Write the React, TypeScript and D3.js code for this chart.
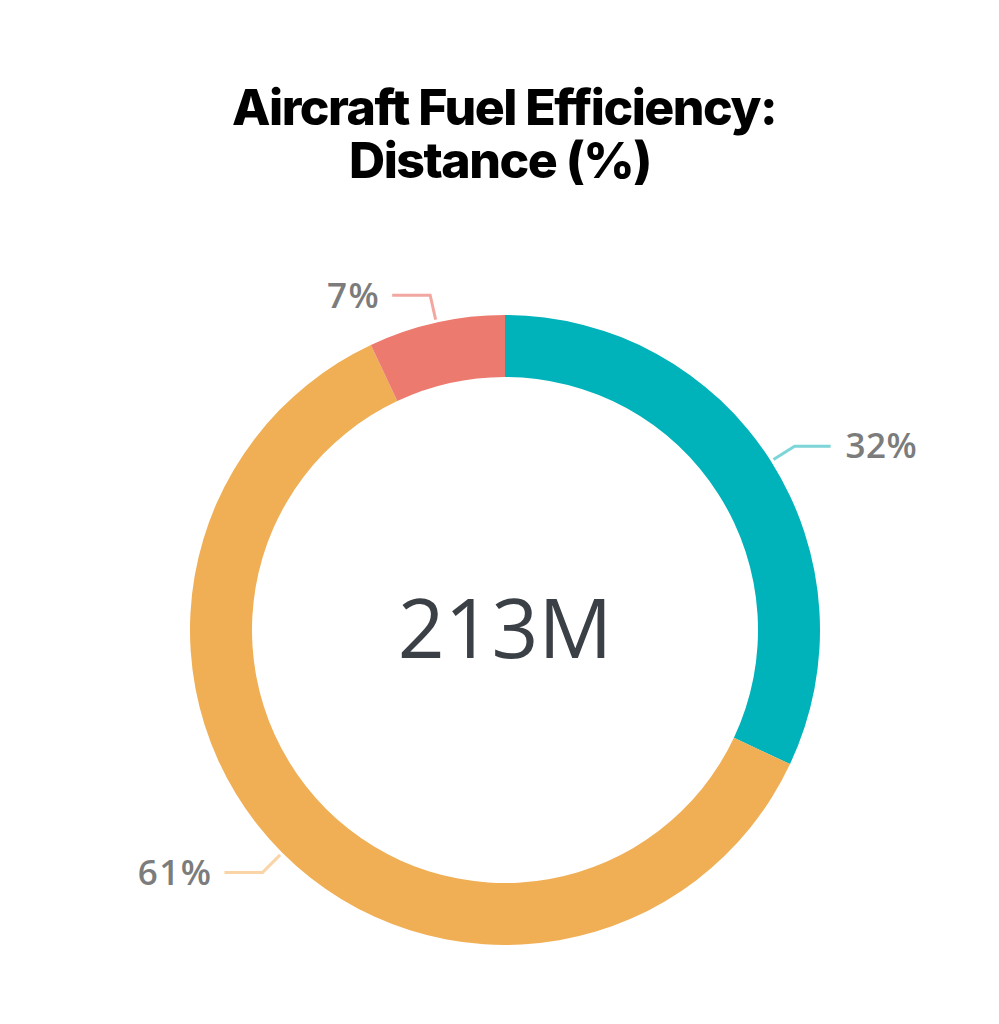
import React from "react";
import * as d3 from "d3";

const categories = ["Teal", "Orange", "Red"];
const values = [32, 61, 7];
const labels = ["32%", "61%", "7%"];
const colors = ["#00B2B9", "#F0AE55", "#EC7A6F"];
const lineColors = ["#7ED5D8", "#F8D4A6", "#F2A8A0"];
const centerLabel = "213M";
const titleLines = ["Aircraft Fuel Efficiency:", "Distance (%)"];

const W = 999;
const H = 1024;
const cx = 505;
const cy = 630;
const outerR = 315;
const innerR = 253;

export default function App() {
  const pie = d3
    .pie<number>()
    .sort(null)
    .value((d) => d)
    .startAngle(0)
    .endAngle(2 * Math.PI);
  const arcs = pie(values);
  const arc = d3.arc<d3.PieArcDatum<number>>().innerRadius(innerR).outerRadius(outerR);

  const pt = (a: number, r: number): [number, number] => [
    cx + r * Math.sin(a),
    cy - r * Math.cos(a),
  ];

  return (
    <svg
      width={W}
      height={H}
      style={{ position: "absolute", left: 0, top: 0, background: "#fff" }}
    >
      <g fontFamily="Inter, 'Noto Sans', sans-serif" fontWeight={800} fill="#000" textAnchor="middle">
        <text x={504} y={125} fontSize={50} letterSpacing={-1.5}>
          {titleLines[0]}
        </text>
        <text x={500} y={178} fontSize={50} letterSpacing={-1.5}>
          {titleLines[1]}
        </text>
      </g>
      <g transform={`translate(${cx},${cy})`}>
        {arcs.map((a, i) => (
          <path key={categories[i]} d={arc(a) || ""} fill={colors[i]} />
        ))}
      </g>
      {arcs.map((a, i) => {
        const mid = (a.startAngle + a.endAngle) / 2;
        const p0 = pt(mid, outerR + 3);
        const p1 = pt(mid, 343);
        const right = Math.sin(mid) > 0;
        const p2: [number, number] = [p1[0] + (right ? 36 : -38), p1[1]];
        const tx = p2[0] + (right ? 15 : -12);
        return (
          <g key={"lbl" + i}>
            <polyline
              points={[p0, p1, p2].map((p) => p.join(",")).join(" ")}
              fill="none"
              stroke={lineColors[i]}
              strokeWidth={3}
            />
            <text
              x={tx}
              y={p1[1]}
              dy="0.35em"
              textAnchor={right ? "start" : "end"}
              fontFamily="'Open Sans', 'Noto Sans', sans-serif"
              fontWeight={600}
              fontSize={35}
              letterSpacing={right ? 0.5 : 1.5}
              fill="#7c7c7c"
            >
              {labels[i]}
            </text>
          </g>
        );
      })}
      <text
        x={cx}
        y={cy + 28}
        textAnchor="middle"
        fontFamily="'Open Sans', 'Noto Sans', sans-serif"
        fontSize={82}
        fill="#3b4046"
      >
        {centerLabel}
      </text>
    </svg>
  );
}
